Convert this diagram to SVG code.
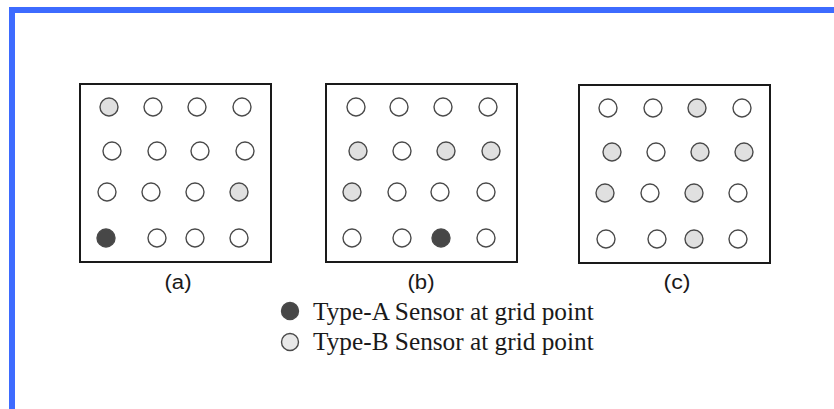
<svg xmlns="http://www.w3.org/2000/svg" width="834" height="409" viewBox="0 0 834 409">
  <style>
    .frame { fill: none; stroke: #1a1a1a; stroke-width: 2; }
    .pt { stroke: #4a4a4a; stroke-width: 1.4; fill: #ffffff; }
    .pt.b { fill: #e0e0e0; }
    .pt.a { fill: #474747; }
    .cap { font-family: "Liberation Sans", Arial, sans-serif; font-size: 20px; fill: #1a1a1a; text-anchor: middle; }
    .leg { font-family: "Liberation Serif", "Times New Roman", serif; font-size: 25.3px; fill: #1a1a1a; }
  </style>
  <rect width="834" height="409" fill="#ffffff"/>
  <!-- page border -->
  <rect x="9" y="7" width="825" height="6" fill="#3d6bff"/>
  <rect x="9" y="7" width="6" height="402" fill="#3d6bff"/>

  <g id="grid-a">
    <rect class="frame" x="80" y="84" width="191" height="178"/>
    <circle class="pt b" cx="109" cy="107" r="9"/>
    <circle class="pt" cx="153" cy="107" r="9"/>
    <circle class="pt" cx="197" cy="107" r="9"/>
    <circle class="pt" cx="242" cy="107" r="9"/>
    <circle class="pt" cx="112" cy="151" r="9"/>
    <circle class="pt" cx="157" cy="151" r="9"/>
    <circle class="pt" cx="200" cy="151" r="9"/>
    <circle class="pt" cx="245" cy="151" r="9"/>
    <circle class="pt" cx="107" cy="192" r="9"/>
    <circle class="pt" cx="151" cy="192" r="9"/>
    <circle class="pt" cx="195" cy="192" r="9"/>
    <circle class="pt b" cx="239" cy="192" r="9"/>
    <circle class="pt a" cx="106" cy="238" r="9"/>
    <circle class="pt" cx="157" cy="238" r="9"/>
    <circle class="pt" cx="195" cy="238" r="9"/>
    <circle class="pt" cx="239" cy="238" r="9"/>
    <text class="cap" x="178" y="289" textLength="27" lengthAdjust="spacingAndGlyphs">(a)</text>
  </g>

  <g id="grid-b">
    <rect class="frame" x="326" y="84" width="191" height="178"/>
    <circle class="pt" cx="356" cy="107" r="9"/>
    <circle class="pt" cx="399" cy="107" r="9"/>
    <circle class="pt" cx="443" cy="107" r="9"/>
    <circle class="pt" cx="488" cy="107" r="9"/>
    <circle class="pt b" cx="358" cy="151" r="9"/>
    <circle class="pt" cx="402" cy="151" r="9"/>
    <circle class="pt b" cx="446" cy="151" r="9"/>
    <circle class="pt b" cx="491" cy="151" r="9"/>
    <circle class="pt b" cx="352" cy="192" r="9"/>
    <circle class="pt" cx="397" cy="192" r="9"/>
    <circle class="pt" cx="440" cy="192" r="9"/>
    <circle class="pt" cx="486" cy="192" r="9"/>
    <circle class="pt" cx="352" cy="238" r="9"/>
    <circle class="pt" cx="402" cy="238" r="9"/>
    <circle class="pt a" cx="441" cy="238" r="9"/>
    <circle class="pt" cx="486" cy="238" r="9"/>
    <text class="cap" x="421" y="289" textLength="27" lengthAdjust="spacingAndGlyphs">(b)</text>
  </g>

  <g id="grid-c">
    <rect class="frame" x="579" y="85" width="191" height="178"/>
    <circle class="pt" cx="608" cy="108" r="9"/>
    <circle class="pt" cx="653" cy="108" r="9"/>
    <circle class="pt b" cx="697" cy="108" r="9"/>
    <circle class="pt" cx="742" cy="108" r="9"/>
    <circle class="pt b" cx="612" cy="152" r="9"/>
    <circle class="pt" cx="656" cy="152" r="9"/>
    <circle class="pt b" cx="700" cy="152" r="9"/>
    <circle class="pt b" cx="744" cy="152" r="9"/>
    <circle class="pt b" cx="605" cy="193" r="9"/>
    <circle class="pt" cx="650" cy="193" r="9"/>
    <circle class="pt b" cx="694" cy="193" r="9"/>
    <circle class="pt" cx="738" cy="193" r="9"/>
    <circle class="pt" cx="606" cy="239" r="9"/>
    <circle class="pt" cx="657" cy="239" r="9"/>
    <circle class="pt b" cx="694" cy="239" r="9"/>
    <circle class="pt" cx="738" cy="239" r="9"/>
    <text class="cap" x="677" y="289" textLength="27" lengthAdjust="spacingAndGlyphs">(c)</text>
  </g>

  <g id="legend">
    <circle class="pt a" cx="290" cy="311" r="8.5"/>
    <text class="leg" x="313" y="320">Type-A Sensor at grid point</text>
    <circle class="pt b" cx="290" cy="342" r="8.5" style="fill:#e8e8e8"/>
    <text class="leg" x="313" y="350">Type-B Sensor at grid point</text>
  </g>
</svg>
